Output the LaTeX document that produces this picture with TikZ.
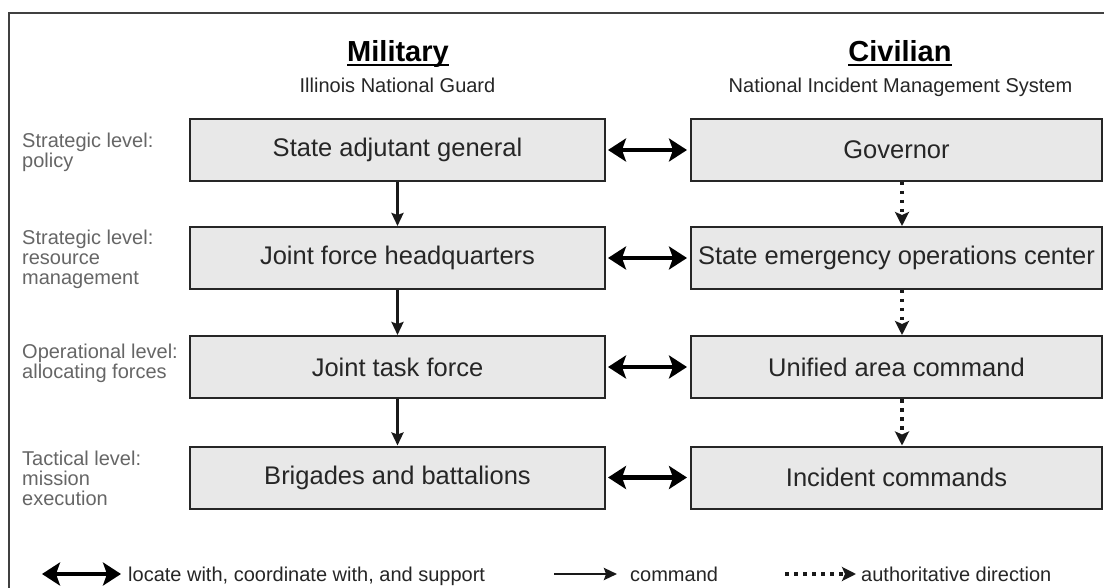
\documentclass[tikz,border=0pt]{standalone}
\usepackage{fontspec}
\setmainfont{Liberation Sans}
\usetikzlibrary{arrows.meta,shadows}
\begin{document}
\begin{tikzpicture}[x=1pt,y=-1pt,
  box/.style={draw=black!85,line width=2pt,fill=black!9,minimum height=62pt,inner sep=0pt,
    font=\fontsize{25.5}{30}\selectfont,text=black!85,
    drop shadow={shadow xshift=1.3pt,shadow yshift=-1.3pt,fill=black!35,opacity=1}},
  lbox/.style={box,minimum width=415pt},
  rbox/.style={box,minimum width=411pt},
  head/.style={font=\fontsize{29}{34}\selectfont\bfseries,inner sep=0pt,anchor=base},
  sub/.style={font=\fontsize{20}{24}\selectfont,text=black!85,inner sep=0pt,anchor=base},
  lvl/.style={font=\fontsize{20}{20}\selectfont,text=black!60,inner sep=0pt,anchor=base west},
  leg/.style={font=\fontsize{20}{24}\selectfont,text=black!85,inner sep=0pt,anchor=base west},
  dbl/.style={{Stealth[length=18pt,width=23pt,inset=4pt]}-{Stealth[length=18pt,width=23pt,inset=4pt]},line width=4.5pt,black},
  cmd/.style={-{Stealth[length=13pt,width=12pt,inset=2pt]},line width=2.6pt,black!90},
  auth/.style={-{Stealth[length=14pt,width=14pt,inset=3pt]},line width=3.5pt,black!90,dash pattern=on 3.5pt off 5.5pt}
]
\useasboundingbox (0,0) rectangle (1104,588);
\clip (0,0) rectangle (1104,588);
\fill[white] (0,0) rectangle (1104,588);
\draw[line width=2pt,black!75] (9,13) rectangle (1120,610);

% headers
\node[head] (mil) at (398,62) {Military};
\draw[line width=2pt] ([yshift=-3pt]mil.base west) -- ([yshift=-3pt]mil.base east);
\node[sub] (milsub) at (397.5,93) {Illinois National Guard};
\node[head] (civ) at (900,62) {Civilian};
\draw[line width=2pt] ([yshift=-3pt]civ.base west) -- ([yshift=-3pt]civ.base east);
\node[sub] (civsub) at (900.5,93) {National Incident Management System};

% level labels
\node[lvl] (lv1) at (22,148) {\parbox[t]{160pt}{\raggedright Strategic level:\\policy}};
\node[lvl] (lv2) at (22,245) {\parbox[t]{160pt}{\raggedright Strategic level:\\resource\\management}};
\node[lvl] (lv3) at (22,359) {\parbox[t]{160pt}{\raggedright Operational level:\\allocating forces}};
\node[lvl] (lv4) at (22,465) {\parbox[t]{160pt}{\raggedright Tactical level:\\mission\\execution}};

% boxes
\node[lbox] (L1) at (397.5,150) {State adjutant general};
\node[lbox] (L2) at (397.5,258) {Joint force headquarters};
\node[lbox] (L3) at (397.5,367) {Joint task force};
\node[lbox] (L4) at (397.5,477.5) {Brigades and battalions};
\node[rbox] (R1) at (896.5,150) {Governor};
\node[rbox] (R2) at (896.5,258) {State emergency operations center};
\node[rbox] (R3) at (896.5,367) {Unified area command};
\node[rbox] (R4) at (896.5,477.5) {Incident commands};

% double arrows
\foreach \i in {1,2,3,4}{
  \draw[dbl,shorten <=2pt,shorten >=3pt] (L\i.east) -- (R\i.west);
}
% command arrows
\draw[cmd] (L1.south) -- (L2.north);
\draw[cmd] (L2.south) -- (L3.north);
\draw[cmd] (L3.south) -- (L4.north);
% authoritative direction
\draw[auth] ([xshift=5.5pt]R1.south) -- ([xshift=5.5pt]R2.north);
\draw[auth] ([xshift=5.5pt]R2.south) -- ([xshift=5.5pt]R3.north);
\draw[auth] ([xshift=5.5pt]R3.south) -- ([xshift=5.5pt]R4.north);

% legend
\coordinate (la) at (42,574);
\coordinate (lb) at (121,574);
\draw[dbl] (la) -- (lb);
\node[leg] (lt1) at (128,581) {locate with, coordinate with, and support};
\coordinate (ca) at (554,574);
\coordinate (cb) at (617,574);
\draw[cmd] (ca) -- (cb);
\node[leg] (lt2) at (630,581) {command};
\coordinate (da) at (785,574);
\coordinate (db) at (856,574);
\draw[auth] (da) -- (db);
\node[leg] (lt3) at (861,581) {authoritative direction};
\end{tikzpicture}
\end{document}
